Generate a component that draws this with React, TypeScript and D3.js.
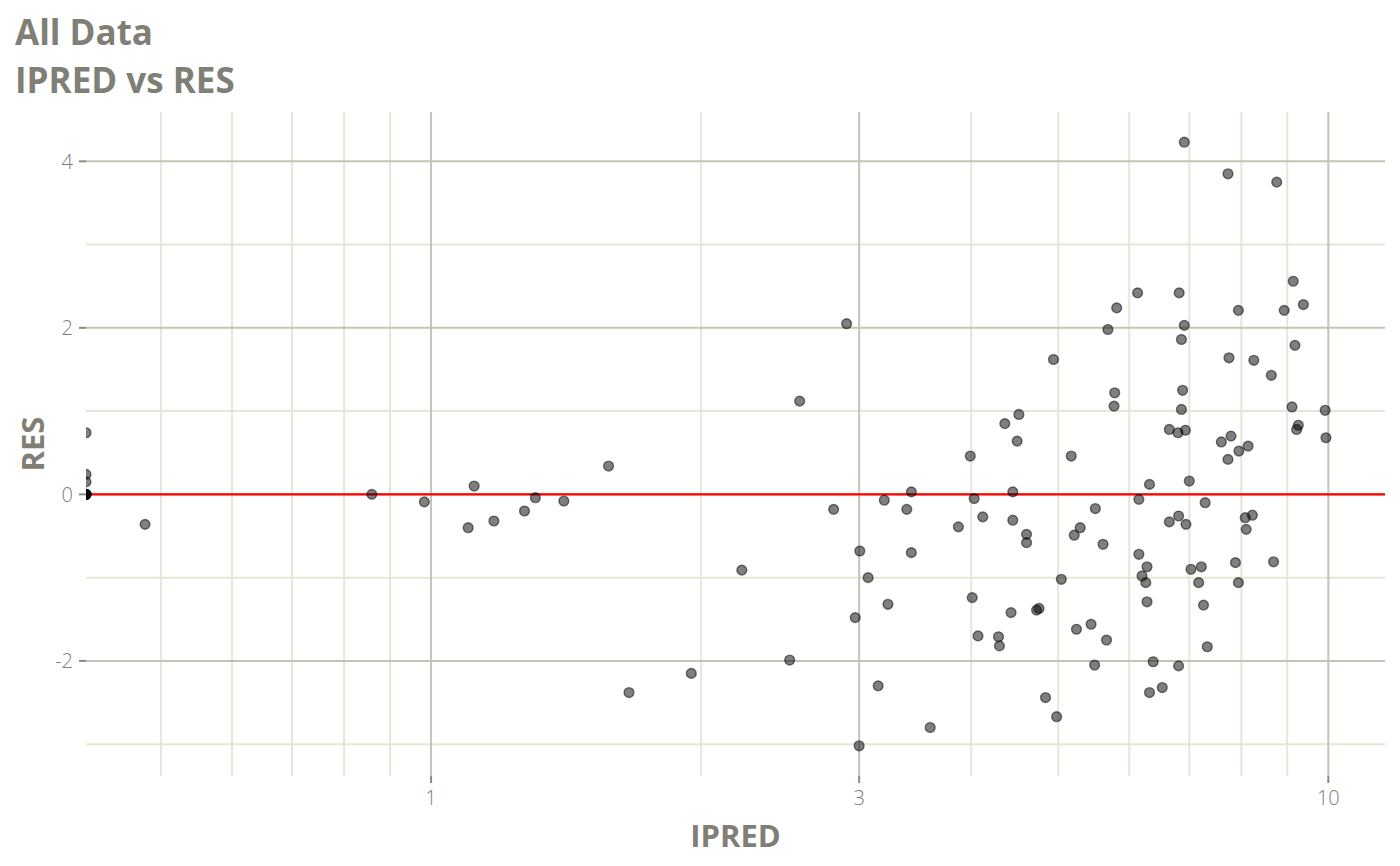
import React from "react";
import * as d3 from "d3";

// IPRED (x) values; 0 = non-positive prediction drawn at the left edge (-Inf on log scale)
const ipred: number[] = [
  0, 0, 0, 0, 0, 0, 0, 0,
  0.48, 0.859, 0.983, 1.117, 1.10, 1.175, 1.271, 1.307, 1.406, 1.577,
  1.662, 1.95, 2.22, 2.51, 2.575, 2.905, 2.81, 3.20, 3.39, 3.43,
  3.005, 3.43, 3.07, 3.23, 2.97, 3.15, 3.60, 3.00, 3.87, 3.99,
  4.03, 4.12, 4.01, 4.07, 4.36, 4.52, 4.50, 4.45, 4.45, 4.61,
  4.61, 4.43, 4.29, 4.30, 4.73, 4.76, 4.84, 4.98, 4.94, 5.17,
  5.29, 5.21, 5.04, 5.24, 5.44, 5.50, 5.61, 5.66, 5.49, 5.68,
  5.81, 5.78, 5.77, 6.13, 6.15, 6.32, 6.15, 6.28, 6.20, 6.26,
  6.28, 6.38, 6.53, 6.32, 6.65, 6.80, 6.93, 6.65, 6.81, 6.94,
  6.81, 6.82, 6.91, 6.86, 6.88, 6.86, 6.91, 7.00, 7.29, 7.03,
  7.22, 7.17, 7.26, 7.33, 7.73, 7.94, 7.75, 7.79, 7.60, 7.95,
  7.73, 7.88, 7.94, 8.26, 8.14, 8.08, 8.23, 8.10, 8.76, 8.64,
  8.69, 8.93, 9.14, 9.38, 9.18, 9.11, 9.26, 9.22, 9.92, 9.94,
];

// RES (y) values, same order
const res: number[] = [
  0.74, 0.24, 0.15, 0, 0, 0, 0, 0,
  -0.36, 0.0, -0.09, 0.10, -0.40, -0.32, -0.20, -0.04, -0.08, 0.34,
  -2.38, -2.15, -0.91, -1.99, 1.12, 2.05, -0.18, -0.07, -0.18, 0.03,
  -0.68, -0.70, -1.00, -1.32, -1.48, -2.30, -2.80, -3.02, -0.39, 0.46,
  -0.05, -0.27, -1.24, -1.70, 0.85, 0.96, 0.64, 0.03, -0.31, -0.48,
  -0.58, -1.42, -1.71, -1.82, -1.39, -1.37, -2.44, -2.67, 1.62, 0.46,
  -0.40, -0.49, -1.02, -1.62, -1.56, -0.17, -0.60, -1.75, -2.05, 1.98,
  2.24, 1.22, 1.06, 2.42, -0.06, 0.12, -0.72, -0.87, -0.98, -1.06,
  -1.29, -2.01, -2.32, -2.38, 0.78, 0.74, 0.77, -0.33, -0.26, -0.36,
  -2.06, 2.42, 2.03, 1.86, 1.25, 1.02, 4.23, 0.16, -0.10, -0.90,
  -0.87, -1.06, -1.33, -1.83, 3.85, 2.21, 1.64, 0.70, 0.63, 0.52,
  0.42, -0.82, -1.06, 1.61, 0.58, -0.28, -0.25, -0.42, 3.75, 1.43,
  -0.81, 2.21, 2.56, 2.28, 1.79, 1.05, 0.83, 0.78, 1.01, 0.68,
];

const xMajor: number[] = [1, 3, 10];
const xMajorLabels: string[] = ["1", "3", "10"];
const xMinor: number[] = [0.5, 0.6, 0.7, 0.8, 0.9, 2, 4, 5, 6, 7, 8, 9];
const yMajor: number[] = [-2, 0, 2, 4];
const yMinor: number[] = [-3, -1, 1, 3];

const titleLines: string[] = ["All Data", "IPRED vs RES"];
const xTitle = "IPRED";
const yTitle = "RES";

const W = 1400;
const H = 866;
const M = { left: 86, right: 1385, top: 112, bottom: 776 };

const TEXT = "#7f7f75";
const TICK_TEXT = "#7d7d7d";
const MAJOR = "#c3c3b6";
const MINOR = "#e6e6d8";
const FONT = "'Open Sans', 'Noto Sans', sans-serif";

export default function App() {
  const finiteX = ipred.filter((v) => v > 0);
  const lx = finiteX.map((v) => Math.log10(v));
  const lmin = d3.min(lx) as number;
  const lmax = d3.max(lx) as number;
  const lpad = (lmax - lmin) * 0.05;
  const x = d3
    .scaleLog()
    .domain([Math.pow(10, lmin - lpad), Math.pow(10, lmax + lpad)])
    .range([M.left, M.right]);

  const ymin = d3.min(res) as number;
  const ymax = d3.max(res) as number;
  const ypad = (ymax - ymin) * 0.05;
  const y = d3
    .scaleLinear()
    .domain([ymin - ypad, ymax + ypad])
    .range([M.bottom, M.top]);

  const px = (v: number) => (v > 0 ? x(v) : M.left);

  return (
    <svg
      width={W}
      height={H}
      style={{ position: "absolute", left: 0, top: 0, background: "#fff" }}
    >
      <defs>
        <clipPath id="panel">
          <rect x={M.left} y={M.top} width={M.right - M.left} height={M.bottom - M.top} />
        </clipPath>
      </defs>
      {/* titles */}
      <text x={15} y={45} fill={TEXT} fontFamily={FONT} fontWeight={700} fontSize={35}>
        {titleLines[0]}
      </text>
      <text x={15} y={93} fill={TEXT} fontFamily={FONT} fontWeight={700} fontSize={35}>
        {titleLines[1]}
      </text>

      {/* minor grid */}
      {xMinor.map((v) => (
        <line key={"xm" + v} x1={x(v)} x2={x(v)} y1={M.top} y2={M.bottom} stroke={MINOR} strokeWidth={2} />
      ))}
      {yMinor.map((v) => (
        <line key={"ym" + v} x1={M.left} x2={M.right} y1={y(v)} y2={y(v)} stroke={MINOR} strokeWidth={2} />
      ))}
      {/* major grid */}
      {xMajor.map((v) => (
        <line key={"xM" + v} x1={x(v)} x2={x(v)} y1={M.top} y2={M.bottom} stroke={MAJOR} strokeWidth={2} />
      ))}
      {yMajor.map((v) => (
        <line key={"yM" + v} x1={M.left} x2={M.right} y1={y(v)} y2={y(v)} stroke={MAJOR} strokeWidth={2} />
      ))}

      {/* reference line */}
      <line x1={M.left} x2={M.right} y1={y(0)} y2={y(0)} stroke="#ff0000" strokeWidth={2.2} />

      {/* points */}
      <g clipPath="url(#panel)">
        {ipred.map((v, i) => (
          <circle
            key={i}
            cx={px(v)}
            cy={y(res[i])}
            r={4.9}
            fill="rgba(0,0,0,0.5)"
            stroke="rgba(0,0,0,0.5)"
            strokeWidth={1.4}
          />
        ))}
      </g>

      {/* x axis ticks */}
      {xMajor.map((v, i) => (
        <g key={"xt" + v}>
          <line x1={x(v)} x2={x(v)} y1={M.bottom} y2={M.bottom + 7} stroke="#8a8a8a" strokeWidth={2} />
          <text
            x={x(v)}
            y={805}
            textAnchor="middle"
            fill={TICK_TEXT}
            fontFamily={FONT}
            fontWeight={300}
            fontSize={20}
          >
            {xMajorLabels[i]}
          </text>
        </g>
      ))}
      {/* y axis ticks */}
      {yMajor.map((v) => (
        <g key={"yt" + v}>
          <line x1={M.left - 7} x2={M.left} y1={y(v)} y2={y(v)} stroke="#8a8a8a" strokeWidth={2} />
          <text
            x={73}
            y={y(v)}
            dy="0.36em"
            textAnchor="end"
            fill={TICK_TEXT}
            fontFamily={FONT}
            fontWeight={300}
            fontSize={20}
          >
            {v}
          </text>
        </g>
      ))}

      {/* axis titles */}
      <text
        x={(M.left + M.right) / 2}
        y={847}
        textAnchor="middle"
        fill={TEXT}
        fontFamily={FONT}
        fontWeight={700}
        fontSize={31}
      >
        {xTitle}
      </text>
      <text
        transform={`translate(44,${(M.top + M.bottom) / 2}) rotate(-90)`}
        textAnchor="middle"
        fill={TEXT}
        fontFamily={FONT}
        fontWeight={700}
        fontSize={31}
      >
        {yTitle}
      </text>
    </svg>
  );
}
